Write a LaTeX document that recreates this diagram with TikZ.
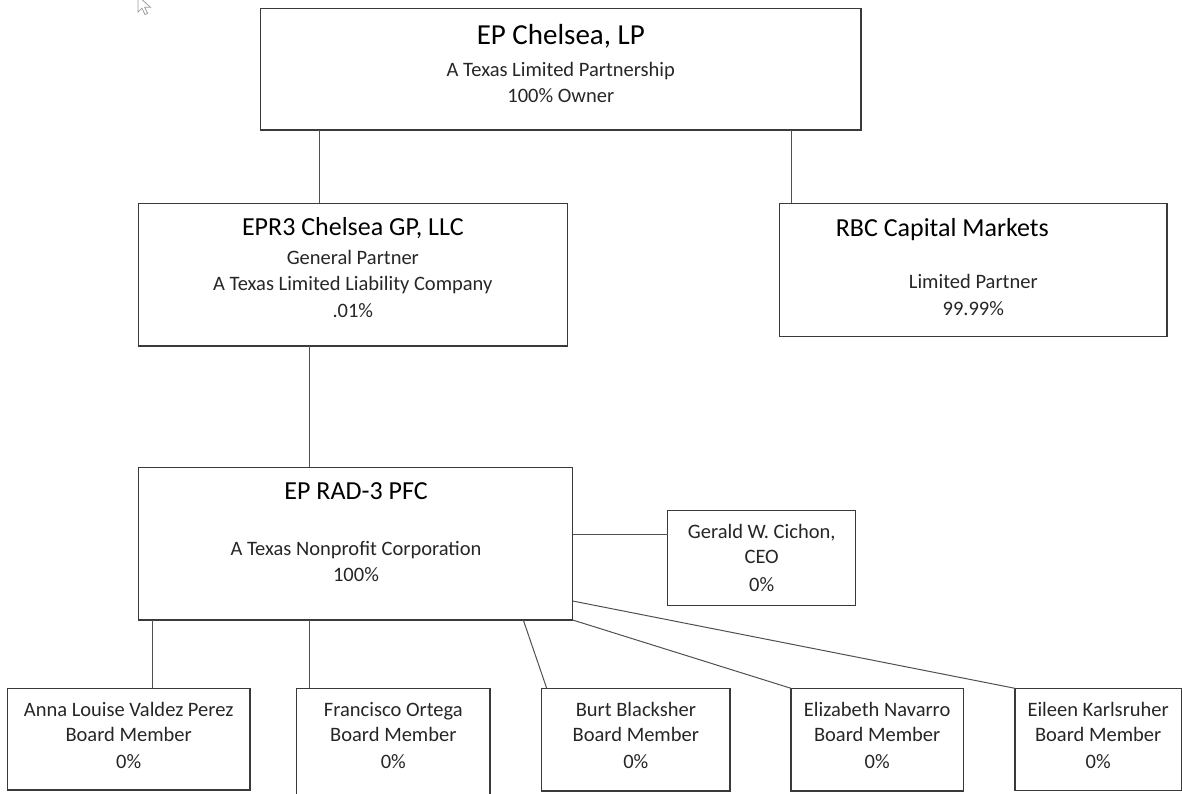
\documentclass[tikz,border=0pt]{standalone}
\usepackage{fontspec}
\setmainfont{Carlito}
\definecolor{boxgray}{HTML}{3A3A3A}
\definecolor{linegray}{HTML}{505050}
\definecolor{txt}{HTML}{262626}
\begin{document}
\begin{tikzpicture}[x=1pt,y=-1pt,
  box/.style={draw=boxgray, line width=1.2pt, inner sep=0pt, outer sep=0pt},
  conn/.style={draw=linegray, line width=1pt},
  body/.style={anchor=base, inner sep=0pt, text=txt, font=\fontsize{20.5}{24}\selectfont},
  ttl/.style={anchor=base, inner sep=0pt, text=black, font=\fontsize{26}{30}\selectfont},
  bigttl/.style={anchor=base, inner sep=0pt, text=black, font=\fontsize{29}{33}\selectfont},
]
\useasboundingbox (0,0) rectangle (1182,793);

% boxes
\node[box, minimum width=600.3pt, minimum height=121.7pt] (top) at (560.85,69.15) {};
\node[box, minimum width=429pt, minimum height=142.7pt] (epr) at (352.8,274.65) {};
\node[box, minimum width=387.3pt, minimum height=133.4pt] (rbc) at (973.35,270) {};
\node[box, minimum width=434.4pt, minimum height=152.7pt] (rad) at (355.5,543.65) {};
\node[box, minimum width=188pt, minimum height=95pt] (ger) at (761.7,558.2) {};
\node[box, minimum width=242.7pt, minimum height=101.7pt] (anna) at (128.65,739.15) {};
\node[box, minimum width=193.3pt, minimum height=106.7pt] (fran) at (393.35,741.65) {};
\node[box, minimum width=188.3pt, minimum height=102.7pt] (burt) at (635.85,739.65) {};
\node[box, minimum width=172.3pt, minimum height=102.7pt] (eliz) at (877.15,739.65) {};
\node[box, minimum width=166.3pt, minimum height=102.4pt] (eil) at (1098.15,739.5) {};

% connectors
\draw[conn] (top.south -| 319,0) -- (epr.north -| 319,0);
\draw[conn] (top.south -| 791,0) -- (rbc.north -| 791,0);
\draw[conn] (epr.south -| 309,0) -- (rad.north -| 309,0);
\draw[conn] (rad.east |- 0,534) -- (ger.west |- 0,534);
\draw[conn] (rad.south -| 152.7,0) -- (anna.north -| 152.7,0);
\draw[conn] (rad.south -| 309,0) -- (fran.north -| 309,0);
\draw[conn] (rad.south -| 523.3,0) -- (burt.north -| 546.7,0);
\draw[conn] (rad.south east) -- (eliz.north west);
\draw[conn] (rad.east |- 0,601) -- (eil.north west);

% texts
\node[bigttl] (t1) at (560.8,44.3) {EP Chelsea, LP};
\node[body] (t2) at (560.8,76) {A Texas Limited Partnership};
\node[body] (t3) at (560.8,102) {100\% Owner};

\node[ttl] (e1) at (352.8,235) {EPR3 Chelsea GP, LLC};
\node[body] (e2) at (352.8,264) {General Partner};
\node[body] (e3) at (352.8,290.5) {A Texas Limited Liability Company};
\node[body] (e4) at (352.8,317) {.01\%};

\node[ttl] (r1) at (942.3,236.7) {RBC Capital Markets};
\node[body] (r2) at (973.3,288.3) {Limited Partner};
\node[body] (r3) at (973.3,315) {99.99\%};

\node[ttl] (p1) at (356,499.3) {EP RAD-3 PFC};
\node[body] (p2) at (356,555) {A Texas Nonprofit Corporation};
\node[body] (p3) at (356,581.7) {100\%};

\node[body] (g1) at (761.7,538.3) {Gerald W. Cichon,};
\node[body] (g2) at (761.7,563.3) {CEO};
\node[body] (g3) at (761.7,591) {0\%};

\foreach \nm/\cx/\who in {a/128.65/Anna Louise Valdez Perez, f/393.35/Francisco Ortega, b/635.85/Burt Blacksher, z/877.15/Elizabeth Navarro, k/1098.15/Eileen Karlsruher}{
  \node[body] (\nm1) at (\cx,716.7) {\who};
  \node[body] (\nm2) at (\cx,741.7) {Board Member};
  \node[body] (\nm3) at (\cx,768.3) {0\%};
}

% mouse cursor
\draw[draw=gray!75, fill=white, line width=0.8pt, line join=miter]
  (138,-4) -- (138,12) -- (142,8.2) -- (145,14.5) -- (147.6,13.3) -- (144.7,7.3) -- (150.5,7.3) -- cycle;
\end{tikzpicture}
\end{document}
